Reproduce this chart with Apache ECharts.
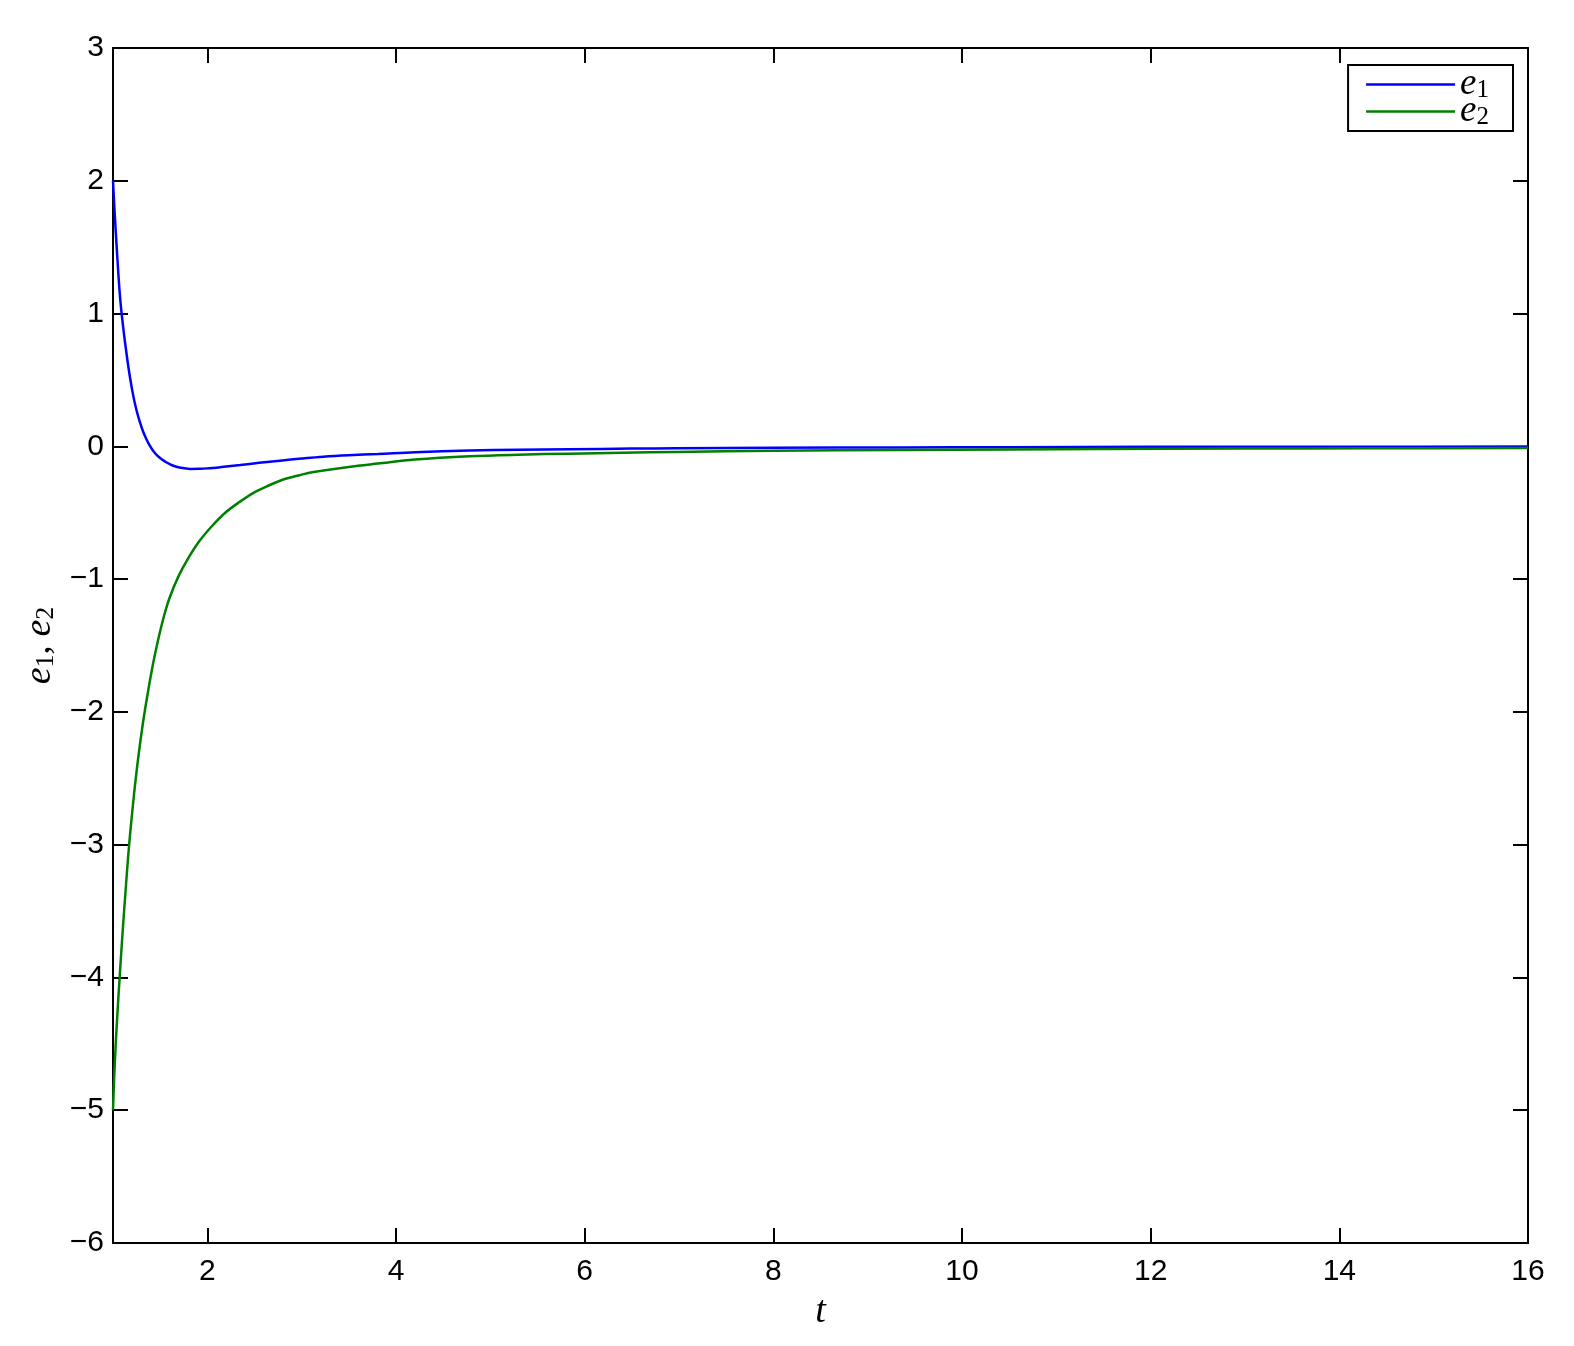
<!DOCTYPE html>
<html>
<head>
<meta charset="utf-8">
<script src="https://cdn.jsdelivr.net/npm/echarts@6/dist/echarts.min.js"></script>
<style>
html,body{margin:0;padding:0;background:#fff;}
#chart{width:1574px;height:1346px;}
</style>
</head>
<body>
<div id="chart"></div>
<script>
// ---- data ----
var e1T = [1.0, 1.01, 1.02, 1.039, 1.074, 1.109, 1.145, 1.18, 1.215, 1.25, 1.286, 1.32, 1.357, 1.39, 1.427, 1.47, 1.516, 1.569, 1.64, 1.72, 1.82, 1.92, 2.0, 2.15, 2.35, 2.55, 2.77, 3.0, 3.23, 3.5, 3.81, 4.2, 4.78, 5.3, 5.84, 6.5, 6.97, 8.0, 9.34, 10.5, 12.0, 14.0, 16.0];
var e1V = [2.0, 1.86, 1.73, 1.50, 1.13, 0.89, 0.69, 0.52, 0.38, 0.27, 0.18, 0.11, 0.05, 0.005, -0.035, -0.07, -0.097, -0.122, -0.146, -0.162, -0.17, -0.169, -0.166, -0.156, -0.141, -0.124, -0.108, -0.092, -0.078, -0.067, -0.058, -0.045, -0.032, -0.026, -0.022, -0.017, -0.015, -0.011, -0.008, -0.006, -0.004, -0.003, -0.002];
var e2T = [1.0, 1.01, 1.02, 1.042, 1.074, 1.10, 1.13, 1.17, 1.223, 1.258, 1.30, 1.34, 1.413, 1.484, 1.54, 1.60, 1.70, 1.80, 1.92, 2.05, 2.19, 2.34, 2.49, 2.65, 2.805, 3.0, 3.16, 3.5, 3.81, 4.2, 4.78, 5.3, 5.84, 6.4, 6.97, 8.0, 9.34, 10.5, 11.46, 13.0, 14.3, 16.0];
var e2V = [-5.0, -4.80, -4.63, -4.33, -3.96, -3.68, -3.38, -3.01, -2.62, -2.40, -2.17, -1.98, -1.68, -1.44, -1.28, -1.14, -0.97, -0.84, -0.71, -0.6, -0.50, -0.42, -0.35, -0.295, -0.25, -0.213, -0.19, -0.155, -0.13, -0.10, -0.075, -0.063, -0.055, -0.048, -0.042, -0.034, -0.027, -0.023, -0.02, -0.017, -0.015, -0.012];
var xTickValues = [2, 4, 6, 8, 10, 12, 14, 16];
var xRange = [1, 16];
var yRange = [-6, 3];
var yStep = 1;
var seriesNames = ['e1', 'e2'];
var seriesColors = ['#0000ff', '#008000'];

function pairs(t, v) { return t.map(function (x, i) { return [x, v[i]]; }); }

var axisLineStyle = { color: '#000', width: 2 };
var tickFont = { fontFamily: 'Liberation Sans', fontSize: 30, color: '#000' };
var serif = 'Liberation Serif';

var chart = echarts.init(document.getElementById('chart'), null, { renderer: 'canvas' });
chart.setOption({
  backgroundColor: '#fff',
  animation: false,
  grid: { left: 113, right: 46, top: 48, bottom: 103, containLabel: false },
  legend: {
    data: seriesNames,
    orient: 'vertical',
    right: 61,
    top: 65,
    padding: [1, 24, 1, 18],
    backgroundColor: '#fff',
    borderColor: '#000',
    borderWidth: 2,
    borderRadius: 0,
    icon: 'rect',
    itemWidth: 89,
    itemHeight: 2.5,
    itemGap: -10,
    formatter: function (name) { return '{e|e}{s|' + name.slice(1) + '}'; },
    textStyle: {
      rich: {
        e: { fontFamily: serif, fontStyle: 'italic', fontSize: 37, lineHeight: 24, color: '#000' },
        s: { fontFamily: serif, fontSize: 25, lineHeight: 12, padding: [12, 0, 0, 0], color: '#000' }
      }
    }
  },
  xAxis: [
    {
      type: 'value', position: 'bottom', min: xRange[0], max: xRange[1],
      name: '{t|t}', nameLocation: 'middle', nameGap: 50,
      nameTextStyle: { rich: { t: { fontFamily: serif, fontStyle: 'italic', fontSize: 38, color: '#000' } } },
      axisLine: { show: true, onZero: false, lineStyle: axisLineStyle },
      axisTick: { show: true, inside: true, length: 15, lineStyle: axisLineStyle, customValues: xTickValues },
      axisLabel: Object.assign({ margin: 14, customValues: xTickValues }, tickFont),
      splitLine: { show: false }
    },
    {
      type: 'value', position: 'top', min: xRange[0], max: xRange[1],
      axisLine: { show: true, onZero: false, lineStyle: axisLineStyle },
      axisTick: { show: true, inside: true, length: 15, lineStyle: axisLineStyle, customValues: xTickValues },
      axisLabel: { show: false, customValues: xTickValues },
      splitLine: { show: false }
    }
  ],
  yAxis: [
    {
      type: 'value', position: 'left', min: yRange[0], max: yRange[1], interval: yStep,
      name: '{e|e}{s|1}{c|, }{e|e}{s|2}', nameLocation: 'middle', nameGap: 58, nameRotate: 90,
      nameTextStyle: {
        rich: {
          e: { fontFamily: serif, fontStyle: 'italic', fontSize: 38, lineHeight: 28, color: '#000' },
          c: { fontFamily: serif, fontSize: 36, lineHeight: 28, color: '#000' },
          s: { fontFamily: serif, fontSize: 26, lineHeight: 14, padding: [12, 0, 0, 0], color: '#000' }
        }
      },
      axisLine: { show: true, onZero: false, lineStyle: axisLineStyle },
      axisTick: { show: true, inside: true, length: 15, lineStyle: axisLineStyle },
      axisLabel: Object.assign({ margin: 9, formatter: function (v) { return String(v).replace('-', '\u2212'); } }, tickFont),
      splitLine: { show: false }
    },
    {
      type: 'value', position: 'right', min: yRange[0], max: yRange[1], interval: yStep,
      axisLine: { show: true, onZero: false, lineStyle: axisLineStyle },
      axisTick: { show: true, inside: true, length: 15, lineStyle: axisLineStyle },
      axisLabel: { show: false },
      splitLine: { show: false }
    }
  ],
  series: [
    {
      name: seriesNames[0], type: 'line', xAxisIndex: 0, yAxisIndex: 0,
      data: pairs(e1T, e1V), symbol: 'none', showSymbol: false,
      smooth: 0.35,
      itemStyle: { color: seriesColors[0] },
      lineStyle: { color: seriesColors[0], width: 2.5 }
    },
    {
      name: seriesNames[1], type: 'line', xAxisIndex: 0, yAxisIndex: 0,
      data: pairs(e2T, e2V), symbol: 'none', showSymbol: false,
      smooth: 0.35,
      itemStyle: { color: seriesColors[1] },
      lineStyle: { color: seriesColors[1], width: 2.5 }
    }
  ]
});
</script>
</body>
</html>
